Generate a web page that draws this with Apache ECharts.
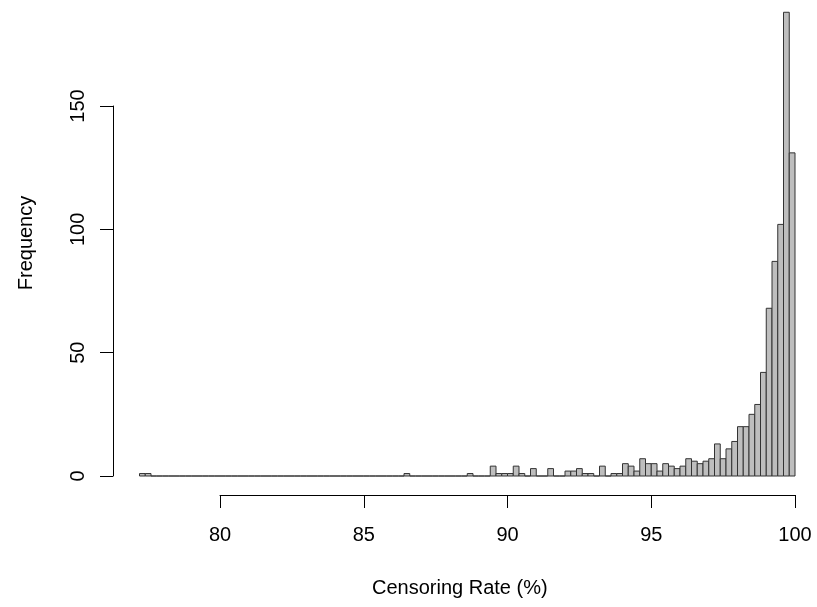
<!DOCTYPE html>
<html>
<head>
<meta charset="utf-8">
<script src="https://cdn.jsdelivr.net/npm/echarts@6/dist/echarts.min.js"></script>
<style>html,body{margin:0;padding:0;background:#fff}#chart{width:817px;height:607px}</style>
</head>
<body>
<div id="chart"></div>
<script>
// Histogram data: bins of width 0.2 starting at 77.2, ending at 100
var binStart = 77.2;
var binWidth = 0.2;
var counts = [
  1, 1, 0, 0, 0, 0, 0, 0, 0, 0,      // 77.2 - 79.2
  0, 0, 0, 0, 0, 0, 0, 0, 0, 0,      // 79.2 - 81.2
  0, 0, 0, 0, 0, 0, 0, 0, 0, 0,      // 81.2 - 83.2
  0, 0, 0, 0, 0, 0, 0, 0, 0, 0,      // 83.2 - 85.2
  0, 0, 0, 0, 0, 0, 1, 0, 0, 0,      // 85.2 - 87.2
  0, 0, 0, 0, 0, 0, 0, 1, 0, 0,      // 87.2 - 89.2
  0, 4, 1, 1, 1, 4, 1, 0, 3, 0,      // 89.2 - 91.2
  0, 3, 0, 0, 2, 2, 3, 1, 1, 0,      // 91.2 - 93.2
  4, 0, 1, 1, 5, 4, 2, 7, 5, 5,      // 93.2 - 95.2
  2, 5, 4, 3, 4, 7, 6, 5, 6, 7,      // 95.2 - 97.2
  13, 7, 11, 14, 20, 20, 25, 29, 42, 68, // 97.2 - 99.2
  87, 102, 188, 131                   // 99.2 - 100
];
var xTicks = [80, 85, 90, 95, 100];
var yTicks = [0, 50, 100, 150];
var xLabel = 'Censoring Rate (%)';
var yLabel = 'Frequency';

var data = counts.map(function (c, i) {
  var lo = +(binStart + i * binWidth).toFixed(1);
  return [lo, +(lo + binWidth).toFixed(1), c];
});

var FONT = '"Liberation Sans", Arial, Helvetica, sans-serif';
var chart = echarts.init(document.getElementById('chart'), null, {renderer: 'canvas'});
chart.setOption({
  backgroundColor: '#ffffff',
  animation: false,
  grid: {left: 220, right: 22, top: 106, bottom: 131, containLabel: false},
  xAxis: {
    type: 'value', min: xTicks[0], max: xTicks[xTicks.length - 1], interval: 5,
    offset: 19,
    axisLine: {show: true, onZero: false, lineStyle: {color: '#000', width: 1}},
    axisTick: {show: true, length: 13, lineStyle: {color: '#000', width: 1}},
    axisLabel: {fontSize: 20, color: '#000', fontFamily: FONT, margin: 30},
    splitLine: {show: false}
  },
  yAxis: {
    type: 'value', min: yTicks[0], max: yTicks[yTicks.length - 1], interval: 50,
    offset: 107,
    axisLine: {show: true, onZero: false, lineStyle: {color: '#000', width: 1}},
    axisTick: {show: true, length: 13, lineStyle: {color: '#000', width: 1}},
    axisLabel: {fontSize: 20, color: '#000', fontFamily: FONT, margin: 25, rotate: 90},
    splitLine: {show: false}
  },
  graphic: [
    {type: 'text', left: 467 - 95, top: 578,
     style: {text: xLabel, fontSize: 20, fill: '#000', font: '20px ' + FONT}},
    {type: 'text', x: 26, y: 243, rotation: Math.PI / 2,
     style: {text: yLabel, fill: '#000', font: '20px ' + FONT, align: 'center', verticalAlign: 'middle'}}
  ],
  series: [{
    type: 'custom',
    clip: false,
    data: data,
    encode: {x: [0, 1], y: 2},
    renderItem: function (params, api) {
      var p0 = api.coord([api.value(0), 0]);
      var p1 = api.coord([api.value(1), api.value(2)]);
      return {
        type: 'rect',
        shape: {x: p0[0], y: p1[1], width: p1[0] - p0[0], height: p0[1] - p1[1]},
        style: {fill: '#BEBEBE', stroke: '#333', lineWidth: 1}
      };
    }
  }]
});
</script>
</body>
</html>
